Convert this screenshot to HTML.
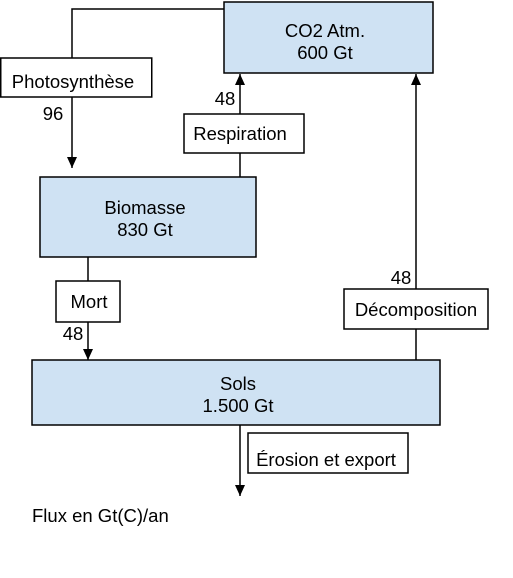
<!DOCTYPE html>
<html><head><meta charset="utf-8"><style>
body{margin:0;background:#fff;}
svg{display:block;font-family:"Liberation Sans",Arial,sans-serif;font-size:18.5px;}
</style></head><body>
<svg width="513" height="578" viewBox="0 0 513 578" xmlns="http://www.w3.org/2000/svg">
<g stroke="#000" stroke-width="1.5" fill="none">
<path d="M224,9 H72 V58"/>
<path d="M72,97 V168"/>
<path d="M240,177 V153"/>
<path d="M240,114 V74"/>
<path d="M88,257 V281"/>
<path d="M88,322 V360"/>
<path d="M416,360 V329"/>
<path d="M416,289 V74"/>
<path d="M240,425 V496"/>
</g>
<g fill="#000">
<path d="M67,157 L77,157 L72,168 z"/>
<path d="M235,85 L245,85 L240,74 z"/>
<path d="M83,349 L93,349 L88,360 z"/>
<path d="M411,85 L421,85 L416,74 z"/>
<path d="M235,485 L245,485 L240,496 z"/>
</g>
<g stroke="#000" stroke-width="1.5">
<rect x="224" y="2" width="209" height="71" fill="#cfe2f3"/>
<rect x="40" y="177" width="216" height="80" fill="#cfe2f3"/>
<rect x="32" y="360" width="408" height="65" fill="#cfe2f3"/>
<rect x="0.75" y="58" width="151" height="39" fill="#fff"/>
<rect x="184" y="114" width="120" height="39" fill="#fff"/>
<rect x="56" y="281" width="64" height="41" fill="#fff"/>
<rect x="344" y="289" width="144" height="40" fill="#fff"/>
<rect x="248" y="433" width="160" height="40" fill="#fff"/>
</g>
<g fill="#000" text-anchor="middle">
<text x="325" y="37">CO2 Atm.</text>
<text x="325" y="59">600 Gt</text>
<text x="145" y="214">Biomasse</text>
<text x="145" y="236">830 Gt</text>
<text x="238" y="390">Sols</text>
<text x="238" y="412">1.500 Gt</text>
<text x="73" y="88">Photosynthèse</text>
<text x="240" y="140">Respiration</text>
<text x="89" y="308">Mort</text>
<text x="416" y="316">Décomposition</text>
<text x="326" y="466">Érosion et export</text>
<text x="53" y="120">96</text>
<text x="225" y="105">48</text>
<text x="73" y="340">48</text>
<text x="401" y="284">48</text>
</g>
<text x="32" y="522" fill="#000">Flux en Gt(C)/an</text>
</svg>
</body></html>
